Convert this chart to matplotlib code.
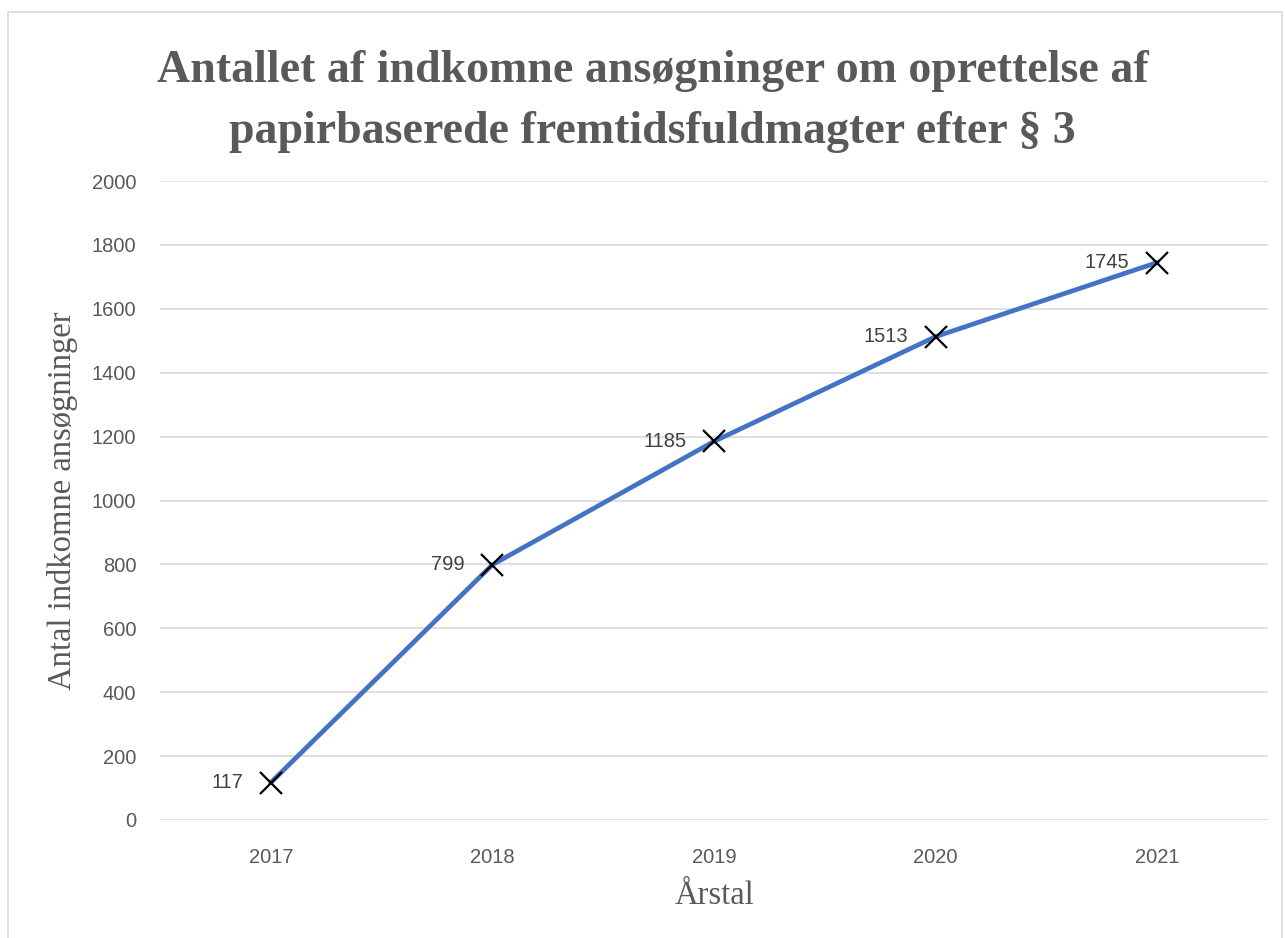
import numpy as np
import matplotlib
matplotlib.use("Agg")
import matplotlib.pyplot as plt
from matplotlib.patches import Rectangle

years = ["2017", "2018", "2019", "2020", "2021"]
counts = [117, 799, 1185, 1513, 1745]
y_ticks = [0, 200, 400, 600, 800, 1000, 1200, 1400, 1600, 1800, 2000]

title = "Antallet af indkomne ansøgninger om oprettelse af\npapirbaserede fremtidsfuldmagter efter § 3"
xlabel = "Årstal"
ylabel = "Antal indkomne ansøgninger"

fig = plt.figure(figsize=(12.85, 9.38), dpi=100)
fig.patches.append(Rectangle((0.006, -0.01), 0.992, 0.997, transform=fig.transFigure,
                             fill=False, edgecolor="#D9D9D9", lw=1.2))
ax = fig.add_axes([0.1245, 0.1258, 0.8623, 0.6812])

x = np.arange(len(years))
ax.plot(x, counts, color="#4472C4", lw=3.4, solid_capstyle="round",
        solid_joinstyle="round", zorder=3)
ax.plot(x, counts, ls="none", marker="x", ms=16, mew=1.6, color="black", zorder=4)

for xi, v in zip(x, counts):
    ax.annotate(str(v), (xi, v), xytext=(-20, 0), textcoords="offset points",
                ha="right", va="center", fontsize=14.5, color="#404040",
                family="Liberation Sans")

ax.set_xlim(-0.5, len(years) - 0.5)
ax.set_ylim(0, 2000)
ax.set_xticks(x)
ax.set_xticklabels(years)
ax.set_yticks(y_ticks)
ax.set_yticklabels([str(t) for t in y_ticks])
ax.tick_params(length=0, labelsize=14.5, labelcolor="#595959")
ax.tick_params(axis="y", pad=17)
ax.tick_params(axis="x", pad=20)
for lab in ax.get_xticklabels() + ax.get_yticklabels():
    lab.set_family("Liberation Sans")
ax.grid(axis="y", color="#D9D9D9", lw=1.2)
ax.set_axisbelow(True)
for s in ax.spines.values():
    s.set_visible(False)

ax.set_xlabel(xlabel, family="Liberation Serif", fontsize=23.5, color="#595959", labelpad=10)
ax.set_ylabel(ylabel, family="Liberation Serif", fontsize=23.5, color="#595959", labelpad=10)

fig.text(0.508, 0.892, title, ha="center", va="center", family="Liberation Serif",
         fontweight="bold", fontsize=33, color="#595959", linespacing=1.6)

fig.savefig("out.png", dpi=100)
